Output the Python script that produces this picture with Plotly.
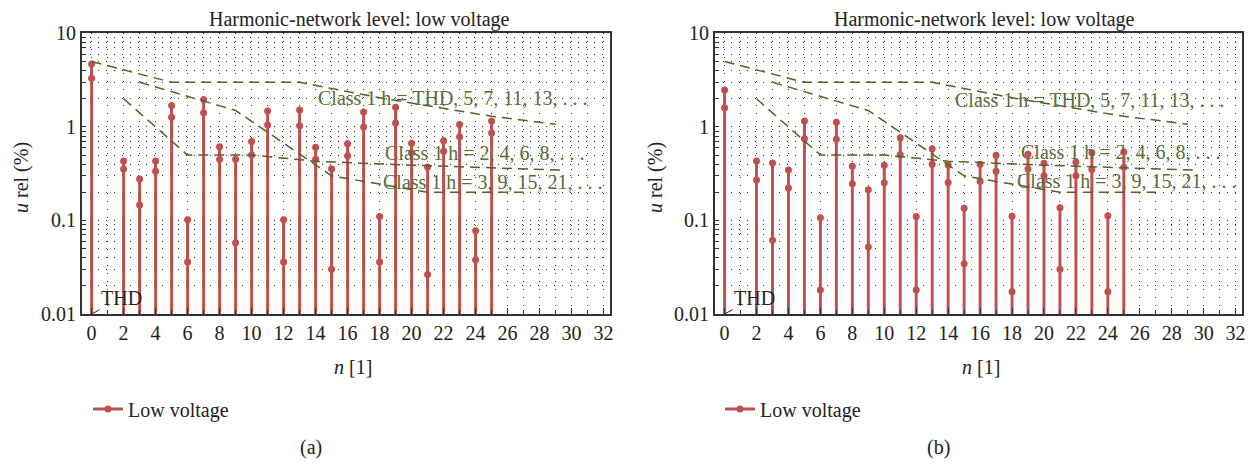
import plotly.graph_objects as go

# harmonic order (0 = THD)
harmonics = [0, 2, 3, 4, 5, 6, 7, 8, 9, 10, 11, 12, 13, 14, 15, 16, 17, 18, 19, 20, 21, 22, 23, 24, 25]

# panel (a)
a_max = [4.71, 0.432, 0.277, 0.432, 1.70, 0.102, 1.97, 0.615, 0.45, 0.70, 1.48, 0.102, 1.52,
         0.605, 0.357, 0.66, 1.44, 0.11, 1.62, 0.67, 0.372, 0.71, 1.06, 0.0776, 1.16]
a_p95 = [3.31, 0.355, 0.146, 0.335, 1.27, 0.036, 1.42, 0.45, 0.0578, 0.50, 1.05, 0.036, 1.03,
         0.45, 0.030, 0.492, 1.0, 0.036, 1.10, 0.53, 0.0265, 0.55, 0.785, 0.038, 0.86]

# panel (b)
b_max = [2.48, 0.432, 0.411, 0.346, 1.16, 0.107, 1.12, 0.38, 0.213, 0.389, 0.767, 0.11, 0.585,
         0.392, 0.135, 0.40, 0.497, 0.111, 0.51, 0.41, 0.137, 0.42, 0.53, 0.112, 0.54]
b_p95 = [1.60, 0.27, 0.0616, 0.222, 0.748, 0.018, 0.74, 0.247, 0.052, 0.253, 0.505, 0.018, 0.40,
         0.255, 0.0344, 0.262, 0.335, 0.0173, 0.355, 0.30, 0.030, 0.30, 0.35, 0.0173, 0.37]

# class 1 compatibility levels
lim_odd_x = [0, 5, 13, 18, 25, 29]
lim_odd_y = [5, 3, 3, 2.05, 1.3, 1.07]
lim_even_x = [2, 4, 6, 10, 14, 20, 29.5]
lim_even_y = [2, 1, 0.5, 0.5, 0.43, 0.39, 0.345]
lim_tri_x = [3, 9, 15, 21, 27]
lim_tri_y = [3, 1.5, 0.3, 0.2, 0.2]

W, H = 1253, 464
OFF = 8  # page body margin
FONT = "Liberation Serif"
RED = "#c0504d"
OLIVE = "#4f6228"
TXT_OLIVE = "#5a6b3a"
BASE = 0.001  # stems start below the axis floor


def px(x):
    return (x - OFF) / W


def py(y):
    return 1 - (y - OFF) / H


def stems(xs, top, mid):
    sx, sy = [], []
    for n, t, m in zip(xs, top, mid):
        sx += [n, n, n, None]
        sy += [BASE, m, t, None]
    return sx, sy


fig = go.Figure()

panels = [("x", "y", a_max, a_p95, "legend"), ("x2", "y2", b_max, b_p95, "legend2")]
for xa, ya, top, mid, lg in panels:
    sx, sy = stems(harmonics, top, mid)
    fig.add_trace(go.Scatter(x=sx, y=sy, mode="lines+markers", name="Low voltage",
                             line=dict(color=RED, width=3), marker=dict(color=RED, size=7),
                             xaxis=xa, yaxis=ya, legend=lg))
    for lx, ly in [(lim_odd_x, lim_odd_y), (lim_even_x, lim_even_y), (lim_tri_x, lim_tri_y)]:
        fig.add_trace(go.Scatter(x=lx, y=ly, mode="lines", showlegend=False,
                                 line=dict(color=OLIVE, width=1.5, dash="10px,6px"),
                                 xaxis=xa, yaxis=ya))

mults = [m for e in (-2, -1, 0) for m in range(1, 10)] + [1]
yvals = [m * 10 ** e for e in (-2, -1, 0) for m in range(1, 10)] + [10]
ytext = [("%g" % v) if m == 1 else "" for v, m in zip(yvals, mults)]

GRID = dict(gridcolor="#333", gridwidth=1, griddash="1px,7px")
axis_common = dict(showline=True, mirror=True, linecolor="#333", linewidth=2,
                   showgrid=True, zeroline=False, ticks="inside", tickcolor="#333",
                   automargin=False, tickfont=dict(family=FONT, size=20, color="#222"), **GRID)

xax = dict(axis_common, range=[-0.6, 32.4], tickmode="array", tickvals=list(range(0, 33, 2)),
           ticklen=6, minor=dict(dtick=1, tick0=0, showgrid=True, ticks="inside", ticklen=4,
                                 tickcolor="#333", **GRID))
yax = dict(axis_common, type="log", range=[-2, 1], tickmode="array", tickvals=yvals,
           ticktext=ytext, ticklen=4)

fig.update_layout(
    template="none",
    width=W, height=H, margin=dict(l=0, r=0, t=0, b=0, autoexpand=False),
    paper_bgcolor="white", plot_bgcolor="white",
    font=dict(family=FONT, size=20, color="#222"),
    xaxis=dict(xax, domain=[px(82), px(610)], anchor="y"),
    yaxis=dict(yax, domain=[py(314), py(33.4)], anchor="x"),
    xaxis2=dict(xax, domain=[px(715), px(1242)], anchor="y2"),
    yaxis2=dict(yax, domain=[py(314), py(33.4)], anchor="x2"),
    legend=dict(x=px(88), y=py(409), xanchor="left", yanchor="middle", orientation="h",
                font=dict(family=FONT, size=20, color="#222"), itemwidth=30, bgcolor="rgba(0,0,0,0)"),
    legend2=dict(x=px(720), y=py(409), xanchor="left", yanchor="middle", orientation="h",
                 font=dict(family=FONT, size=20, color="#222"), itemwidth=30, bgcolor="rgba(0,0,0,0)"),
    showlegend=True,
)

ann = []
for xc, tc, yt_x, cap_x, cap in [(353, 359, 21, 311, "(a)"), (981, 984, 655, 938, "(b)")]:
    ann.append(dict(text="Harmonic-network level: low voltage", x=px(tc), y=py(20)))
    ann.append(dict(text="<i>n</i> [1]", x=px(xc), y=py(367)))
    ann.append(dict(text="<i>u</i> rel (%)", x=px(yt_x), y=py(178), textangle=-90))
    ann.append(dict(text=cap, x=px(cap_x), y=py(447)))
for a in ann:
    a.update(xref="paper", yref="paper", xanchor="center", yanchor="middle",
             showarrow=False, font=dict(size=20))

labels = [("Class 1 h = THD, 5, 7, 11, 13, . . .", 22.6, 0.31, 22.9, 0.29),
          ("Class 1 h = 2, 4, 6, 8, . . .", 24.6, -0.279, 24.8, -0.265),
          ("Class 1 h = 3, 9, 15, 21, . . .", 25.1, -0.586, 25.2, -0.575)]
for t, xa_, ya_, xb_, yb_ in labels:
    ann.append(dict(text=t, x=xa_, y=ya_, xref="x", yref="y", showarrow=False,
                    font=dict(size=20, color=TXT_OLIVE)))
    ann.append(dict(text=t, x=xb_, y=yb_, xref="x2", yref="y2", showarrow=False,
                    font=dict(size=20, color=TXT_OLIVE)))

for xr, yr in [("x", "y"), ("x2", "y2")]:
    ann.append(dict(text="THD", x=0, y=-2, xref=xr, yref=yr, showarrow=True, arrowhead=0,
                    arrowwidth=1, arrowcolor="#222", ax=30, ay=-16, font=dict(size=20)))

fig.update_layout(annotations=ann)

fig.write_html("out.html")
